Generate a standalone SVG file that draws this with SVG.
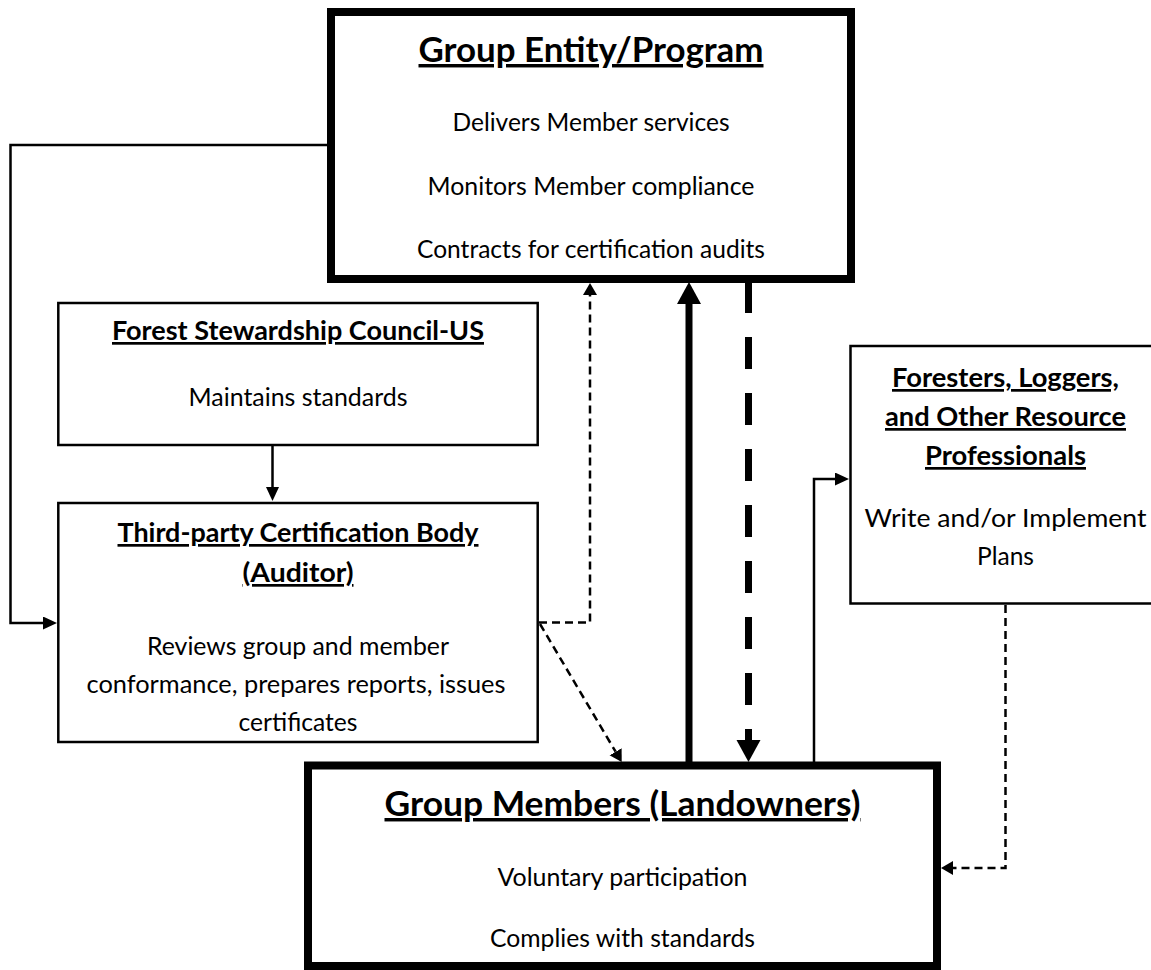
<svg xmlns="http://www.w3.org/2000/svg" width="1151" height="970" viewBox="0 0 1151 970">
  <style>
    .box{fill:#fff;stroke:#000;stroke-width:2.5}
    .bold-box{fill:#fff;stroke:#000;stroke-width:8}
    text{font-family:Lato,"Open Sans","Liberation Sans",sans-serif;fill:#000;text-anchor:middle}
    .t1{font-size:34.5px;font-weight:bold;text-decoration:underline}
    .t2{font-size:27px;font-weight:bold;text-decoration:underline}
    .b{font-size:24.5px}
    .ln{fill:none;stroke:#000;stroke-width:2.5}
    .dl{fill:none;stroke:#000;stroke-width:2.5;stroke-dasharray:8 5}
    .thick{fill:none;stroke:#000;stroke-width:7}
    .thickdash{fill:none;stroke:#000;stroke-width:7;stroke-dasharray:32 24}
  </style>
  <defs>
    <marker id="hThin" markerUnits="userSpaceOnUse" markerWidth="16" markerHeight="14" refX="0" refY="6.5" orient="auto">
      <path d="M0,0 L14,6.5 L0,13 Z" fill="#000"/>
    </marker>
    <marker id="hDash" markerUnits="userSpaceOnUse" markerWidth="14" markerHeight="15" refX="0" refY="7" orient="auto">
      <path d="M0,0 L12,7 L0,14 Z" fill="#000"/>
    </marker>
    <marker id="hBig" markerUnits="userSpaceOnUse" markerWidth="24" markerHeight="26" refX="0" refY="12" orient="auto">
      <path d="M0,0 L22,12 L0,24 Z" fill="#000"/>
    </marker>
  </defs>

  <g id="connectors">
    <path class="ln" d="M327,145 H10.5 V623 H43" marker-end="url(#hThin)"/>
    <path class="ln" d="M272.5,446 V487" marker-end="url(#hThin)"/>
    <path class="dl" d="M539,622.5 H590 V295" marker-end="url(#hDash)"/>
    <path class="dl" d="M540,624 L615.6,751.7" marker-end="url(#hDash)"/>
    <path class="thick" d="M689,766 V304" marker-end="url(#hBig)"/>
    <path class="thickdash" d="M748.5,281 V740" marker-end="url(#hBig)"/>
    <path class="ln" d="M814,766 V479 H835" marker-end="url(#hThin)"/>
    <path class="dl" d="M1005.5,605 V868 H953" marker-end="url(#hDash)"/>
  </g>

  <g id="group-entity">
    <rect class="bold-box" x="331" y="12" width="520" height="267"/>
    <text class="t1" x="591" y="62" textLength="345" lengthAdjust="spacingAndGlyphs">Group Entity/Program</text>
    <text class="b" x="591" y="131" textLength="277" lengthAdjust="spacingAndGlyphs">Delivers Member services</text>
    <text class="b" x="591" y="195" textLength="327" lengthAdjust="spacingAndGlyphs">Monitors Member compliance</text>
    <text class="b" x="591" y="258" textLength="348" lengthAdjust="spacingAndGlyphs">Contracts for certification audits</text>
  </g>

  <g id="fsc">
    <rect class="box" x="58.3" y="303" width="479.4" height="142"/>
    <text class="t2" x="298" y="340" textLength="372" lengthAdjust="spacingAndGlyphs">Forest Stewardship Council-US</text>
    <text class="b" x="298" y="406" textLength="219" lengthAdjust="spacingAndGlyphs">Maintains standards</text>
  </g>

  <g id="certification-body">
    <rect class="box" x="58.3" y="503" width="479.4" height="239"/>
    <text class="t2" x="298" y="542" textLength="361" lengthAdjust="spacingAndGlyphs">Third-party Certification Body</text>
    <text class="t2" x="298" y="582" textLength="111" lengthAdjust="spacingAndGlyphs">(Auditor)</text>
    <text class="b" x="298" y="655" textLength="302" lengthAdjust="spacingAndGlyphs">Reviews group and member</text>
    <text class="b" x="296" y="693" textLength="419" lengthAdjust="spacingAndGlyphs">conformance, prepares reports, issues</text>
    <text class="b" x="298" y="731" textLength="119" lengthAdjust="spacingAndGlyphs">certificates</text>
  </g>

  <g id="foresters">
    <rect class="box" x="850.5" y="346" width="310" height="257.5"/>
    <text class="t2" x="1005.5" y="387" textLength="227" lengthAdjust="spacingAndGlyphs">Foresters, Loggers,</text>
    <text class="t2" x="1005.5" y="426" textLength="241" lengthAdjust="spacingAndGlyphs">and Other Resource</text>
    <text class="t2" x="1005.5" y="465" textLength="161" lengthAdjust="spacingAndGlyphs">Professionals</text>
    <text class="b" x="1005.5" y="527" textLength="282" lengthAdjust="spacingAndGlyphs">Write and/or Implement</text>
    <text class="b" x="1005.5" y="565" textLength="57" lengthAdjust="spacingAndGlyphs">Plans</text>
  </g>

  <g id="group-members">
    <rect class="bold-box" x="308" y="765.5" width="629" height="200.5"/>
    <text class="t1" x="622.5" y="816" textLength="476" lengthAdjust="spacingAndGlyphs">Group Members (Landowners)</text>
    <text class="b" x="622.5" y="886" textLength="250" lengthAdjust="spacingAndGlyphs">Voluntary participation</text>
    <text class="b" x="622.5" y="947" textLength="265" lengthAdjust="spacingAndGlyphs">Complies with standards</text>
  </g>
</svg>
